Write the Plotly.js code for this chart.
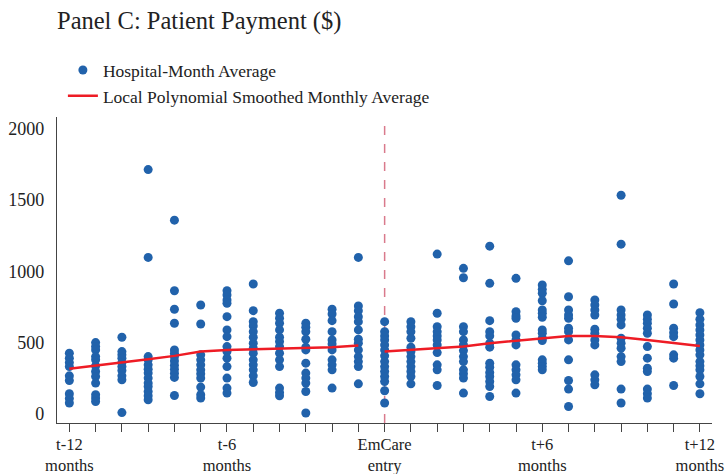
<!DOCTYPE html>
<html>
<head>
<meta charset="utf-8">
<script src="https://cdn.plot.ly/plotly-3.0.1.min.js"></script>
<style>html,body{margin:0;padding:0;background:#fff;}#chart{width:726px;height:474px;}</style>
</head>
<body>
<div id="chart"></div>
<script>
// Months relative to EmCare entry
const months = [-12,-11,-10,-9,-8,-7,-6,-5,-4,-3,-2,-1,0,1,2,3,4,5,6,7,8,9,10,11,12];
// Hospital-month averages per month (one list per month)
const hospitalMonthAvg = [
  [425,390,359,331,266,233,140,107,75],
  [499,471,448,401,378,336,296,261,215,133,110,86],
  [537,436,413,390,359,331,303,266,238,8],
  [1713,1097,401,378,343,313,285,250,215,191,156,126,98],
  [1358,863,733,635,448,425,400,370,340,312,284,255,128],
  [763,630,413,378,343,308,280,250,187,133,110],
  [863,833,798,775,681,588,541,471,436,390,331,250,180,145],
  [910,723,646,616,576,537,495,460,425,378,343,308,266,219],
  [705,670,635,588,537,506,471,425,378,331,180,149,126],
  [635,607,576,523,467,448,355,285,250,215,156,5],
  [733,700,653,576,518,490,448,378,343,308,180],
  [1097,756,723,681,646,588,523,495,448,401,366,331,210],
  [646,576,546,518,483,448,406,366,331,296,261,226,161,75],
  [646,611,576,530,467,436,401,366,331,296,261,210],
  [1120,705,611,576,546,518,483,429,343,308,198],
  [1020,954,611,576,518,483,443,401,366,308,280,250,145],
  [1176,915,653,576,546,495,467,355,327,289,261,226,191,121],
  [950,716,686,670,553,518,483,343,308,273,238,145],
  [903,873,845,793,728,705,677,588,565,530,513,378,355,331,308],
  [1073,821,728,693,670,600,576,518,378,233,173,51],
  [798,763,728,693,593,565,518,483,273,238,203],
  [1533,1190,728,693,663,623,530,495,460,401,366,173,75],
  [693,663,635,600,565,471,390,320,296,173,140,110],
  [910,770,600,569,541,413,390,198],
  [709,663,623,588,553,518,483,448,413,366,336,308,261,210,140]
];
// Local polynomial smoothed monthly average (pre and post entry)
const smoothPreMonths = [-12,-11,-10,-9,-8,-7,-6,-5,-4,-3,-2,-1];
const smoothPre = [315,336,359,383,406,436,448,453,460,462,467,478];
const smoothPostMonths = [0,1,2,3,4,5,6,7,8,9,10,11,12];
const smoothPost = [436,448,460,471,495,511,530,546,546,537,518,499,476];
// Tick labels
const tickMonths = [-12,-6,0,6,12];
const tickLabels = ["t-12<br>months","t-6<br>months","EmCare<br>entry","t+6<br>months","t+12<br>months"];

const px = [], py = [];
months.forEach((m, i) => hospitalMonthAvg[i].forEach(v => { px.push(m); py.push(v); }));

const lineX = smoothPreMonths.concat([null], smoothPostMonths);
const lineY = smoothPre.concat([null], smoothPost);

const tickvals = months.slice();
const ticktext = months.map(m => { const k = tickMonths.indexOf(m); return k >= 0 ? tickLabels[k] : ""; });

const font = "Liberation Serif, Times New Roman, serif";

const traces = [
  {x: px, y: py, type: "scatter", mode: "markers", name: "Hospital-Month Average",
   marker: {color: "#2162ab", size: 9}},
  {x: lineX, y: lineY, type: "scatter", mode: "lines", name: "Local Polynomial Smoothed Monthly Average",
   line: {color: "#ee1c25", width: 2.5}, connectgaps: false}
];

const layout = {
  width: 726, height: 474,
  margin: {l: 57, r: 14, t: 117, b: 51},
  paper_bgcolor: "#fff", plot_bgcolor: "#fff",
  font: {family: font, color: "#222", size: 17},
  title: {text: "Panel C: Patient Payment ($)", font: {family: font, size: 24.5, color: "#222"},
          x: 57/726, xanchor: "left", xref: "container", y: 1 - 20/474, yanchor: "middle", yref: "container"},
  showlegend: true,
  legend: {x: 0.009, y: 1.212, xanchor: "left", yanchor: "top", font: {family: font, size: 17.5, color: "#222"},
           bgcolor: "rgba(0,0,0,0)", tracegroupgap: 0, itemwidth: 30},
  xaxis: {range: [-12.47, 12.46], tickvals: tickvals, ticktext: ticktext, ticks: "outside", ticklen: 8,
          tickcolor: "#444", showline: true, linecolor: "#444", linewidth: 1.2, showgrid: false, zeroline: false,
          ticklabelstandoff: -2,
          tickfont: {family: font, size: 16.5, color: "#222"}},
  yaxis: {range: [-65, 2082], tickvals: [0,500,1000,1500,2000], ticks: "", showline: true, linecolor: "#444",
          linewidth: 1.2, showgrid: false, zeroline: false, ticklabelstandoff: 8,
          tickfont: {family: font, size: 18, color: "#222"}},
  shapes: [{type: "line", xref: "x", yref: "paper", x0: 0, x1: 0, y0: 0, y1: 1,
            line: {color: "#d97a8c", width: 1.5, dash: "dash"}, layer: "below"}]
};

Plotly.newPlot("chart", traces, layout, {displayModeBar: false, staticPlot: true});
</script>
</body>
</html>
